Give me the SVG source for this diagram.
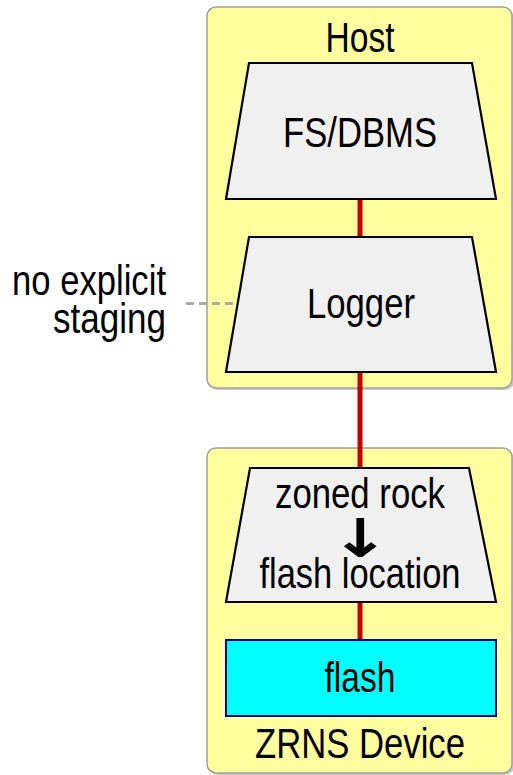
<svg xmlns="http://www.w3.org/2000/svg" width="513" height="775" viewBox="0 0 513 775">
<style>
.box{fill:#ffff9f;stroke:#a0a0a0;stroke-width:1.5}
.shadow{fill:#c8c8c8}
.trap{fill:#f0f0f0;stroke:#000;stroke-width:2.2}
.t{font-family:"Liberation Sans",Arial,sans-serif;font-size:42px;fill:#000}
.m{text-anchor:middle}
.e{text-anchor:end}
.red{stroke:#c00000;stroke-width:5;fill:none}
.dash{stroke:#aaaaaa;stroke-width:3;stroke-dasharray:8,5;fill:none}
</style>
<g id="host">
<rect class="shadow" x="209" y="9" width="305" height="381" rx="9"/>
<rect class="box" x="207" y="7" width="305" height="381" rx="9"/>
<text class="t m" x="360" y="52" textLength="69" lengthAdjust="spacingAndGlyphs">Host</text>
</g>
<g id="zrns">
<rect class="shadow" x="209" y="450" width="305" height="325" rx="9"/>
<rect class="box" x="207" y="448" width="305" height="325" rx="9"/>
<text class="t m" x="360" y="758" textLength="210" lengthAdjust="spacingAndGlyphs">ZRNS Device</text>
</g>
<g id="connectors">
<line class="red" x1="360" y1="199" x2="360" y2="237"/>
<line class="red" x1="360" y1="372" x2="360" y2="468"/>
<line class="red" x1="360" y1="602" x2="360" y2="640"/>
<line class="dash" x1="186" y1="303.5" x2="237" y2="303.5"/>
</g>
<g id="fsdbms">
<polygon class="trap" points="249,63 472,63 496,199 226,199"/>
<text class="t m" x="360" y="147" textLength="154" lengthAdjust="spacingAndGlyphs">FS/DBMS</text>
</g>
<g id="logger">
<polygon class="trap" points="249,237 472,237 496,372 226,372"/>
<text class="t m" x="361" y="318" textLength="108" lengthAdjust="spacingAndGlyphs">Logger</text>
</g>
<g id="mapper">
<polygon class="trap" points="250,468 469,468 496,602 226,602"/>
<text class="t m" x="360" y="508" textLength="170" lengthAdjust="spacingAndGlyphs">zoned rock</text>
<text class="m" transform="translate(360.5,555.5) scale(1.75,1.28)" font-family="'DejaVu Sans',sans-serif" font-size="40" stroke="#000" stroke-width="1.1">↓</text>
<text class="t m" x="360" y="588" textLength="201" lengthAdjust="spacingAndGlyphs">flash location</text>
</g>
<g id="flash">
<rect x="226" y="640" width="270" height="76" fill="#00ffff" stroke="#000080" stroke-width="2"/>
<text class="t m" x="360" y="692" textLength="71" lengthAdjust="spacingAndGlyphs">flash</text>
</g>
<g id="note">
<text class="t e" x="166" y="295" textLength="154" lengthAdjust="spacingAndGlyphs">no explicit</text>
<text class="t e" x="166" y="333" textLength="113" lengthAdjust="spacingAndGlyphs">staging</text>
</g>
</svg>
